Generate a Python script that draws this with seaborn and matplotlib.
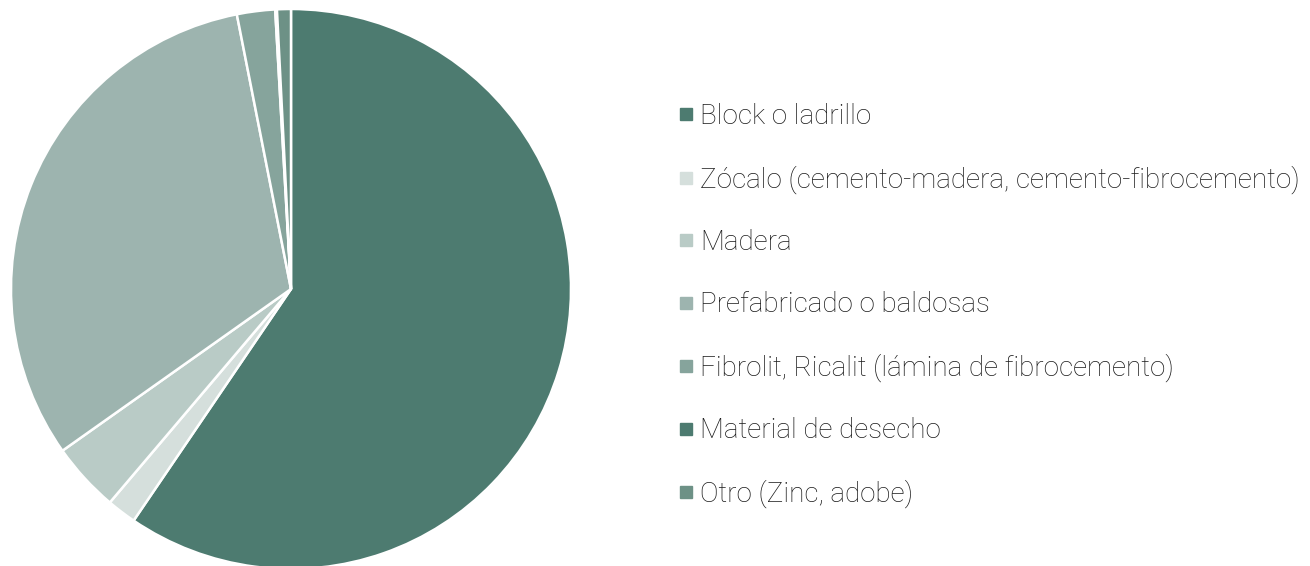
import matplotlib
matplotlib.use("Agg")
import matplotlib.pyplot as plt
from matplotlib.lines import Line2D
import seaborn as sns

categories = [
    "Block o ladrillo",
    "Zócalo (cemento-madera, cemento-fibrocemento)",
    "Madera",
    "Prefabricado o baldosas",
    "Fibrolit, Ricalit (lámina de fibrocemento)",
    "Material de desecho",
    "Otro (Zinc, adobe)",
]
values = [59.5, 1.7, 4.0, 31.7, 2.2, 0.1, 0.8]
colors = ["#4d7b70", "#d5dfdc", "#b9cbc6", "#9db4af", "#86a49c", "#4d7b70", "#6d9186"]

sns.set_theme(style="white")
plt.rcParams["font.family"] = ["Roboto", "DejaVu Sans"]

W, H = 1310, 566
fig = plt.figure(figsize=(W / 100, H / 100), dpi=100)

# pie: centre (291, 289) px from top-left, radius 280 px
r = 280
cx, cy = 291, H - 289
ax = fig.add_axes([(cx - r) / W, (cy - r) / H, 2 * r / W, 2 * r / H])
ax.pie(values, colors=colors, startangle=90, counterclock=False,
       radius=1, wedgeprops=dict(edgecolor="white", linewidth=1.8))
ax.set_xlim(-1, 1)
ax.set_ylim(-1, 1)
ax.set_aspect("equal")
ax.axis("off")

handles = [Line2D([0], [0], marker="s", linestyle="none", markersize=8.6,
                  markerfacecolor=c, markeredgecolor=c) for c in colors]
leg = fig.legend(handles, categories, loc="upper left",
                 bbox_to_anchor=(678 / W, 1 - 103 / H), frameon=False,
                 borderpad=0, borderaxespad=0,
                 handlelength=0.55, handletextpad=0.25, labelspacing=1.27,
                 prop=dict(family=["Roboto", "DejaVu Sans"], weight="light", size=20))
for t in leg.get_texts():
    t.set_color("#1a1a1a")

fig.savefig("out.png", dpi=100)
